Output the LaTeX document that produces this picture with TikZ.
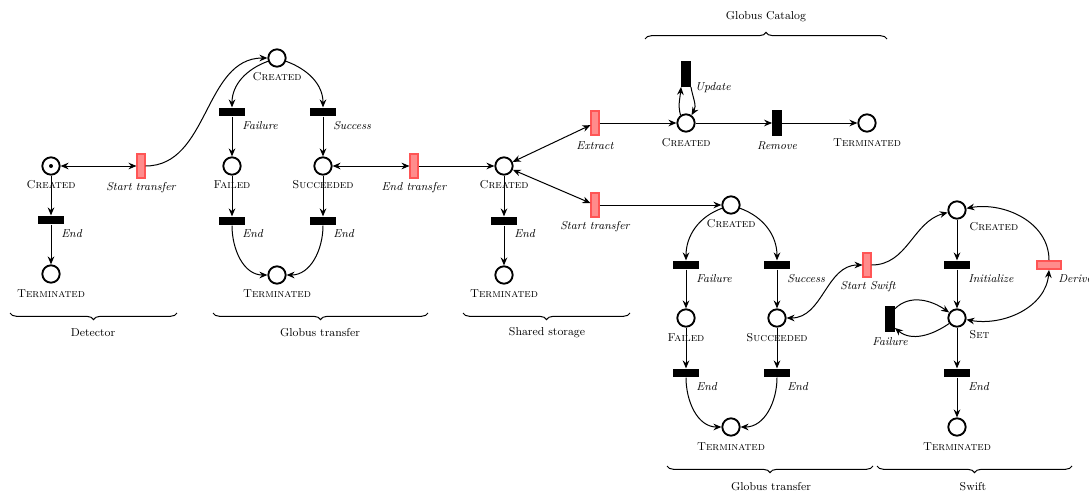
\documentclass[tikz,border=0pt]{standalone}
\usetikzlibrary{arrows.meta,decorations.pathreplacing}
\definecolor{trfill}{RGB}{255,140,140}
\definecolor{trdraw}{RGB}{255,85,85}
\begin{document}
\begin{tikzpicture}[x=0.75pt,y=0.75pt,
  every node/.style={font=\fontsize{8.6}{10.3}\selectfont},
  pnplace/.style={circle,draw,line width=1.4pt,minimum size=13pt,inner sep=0pt},
  pnhbar/.style={rectangle,fill=black,minimum width=19.5pt,minimum height=6.5pt,inner sep=0pt},
  pnvbar/.style={rectangle,fill=black,minimum width=7pt,minimum height=19pt,inner sep=0pt},
  pnrvbar/.style={rectangle,fill=trfill,draw=trdraw,line width=1.3pt,minimum width=5.5pt,minimum height=17.5pt,inner sep=0pt},
  pnrhbar/.style={rectangle,fill=trfill,draw=trdraw,line width=1.3pt,minimum width=18.5pt,minimum height=6pt,inner sep=0pt},
  pnlab/.style={inner sep=0pt},
  pntlab/.style={inner sep=0pt,anchor=west,font=\fontsize{8.6}{10.3}\selectfont\itshape},
  pnarrow/.style={line width=0.75pt,-{Stealth[length=6pt,width=5pt,inset=2pt]}},
  pndarrow/.style={line width=0.75pt,{Stealth[length=6pt,width=5pt,inset=2pt]}-{Stealth[length=6pt,width=5pt,inset=2pt]}},
  pnbrace/.style={decorate,decoration={brace,amplitude=5pt},line width=0.75pt},
]
\useasboundingbox (0,0) rectangle (1089,-493);

% ---------------- Detector
\node[pnplace] (dC) at (51,-166) {};
\node[circle,fill=black,inner sep=0pt,minimum size=3pt] (dTok) at (dC) {};
\node[pnhbar] (dE) at (51,-220) {};
\node[pnplace] (dT) at (51,-274) {};
\node[pnrvbar] (dST) at (141,-166) {};
\node[pnlab] (dCl) at (51,-185) {\textsc{Created}};
\node[pntlab] (dEl) at (61,-234) {End};
\node[pnlab] (dTl) at (51,-294) {\textsc{Terminated}};
\node[pntlab,anchor=center] (dSTl) at (141,-188) {Start transfer};

% ---------------- Globus transfer (top)
\node[pnplace] (gC) at (277,-58) {};
\node[pnhbar] (gF) at (232,-112) {};
\node[pnhbar] (gS) at (323,-112) {};
\node[pnplace] (gFd) at (232,-166) {};
\node[pnplace] (gSd) at (323,-166) {};
\node[pnhbar] (gE1) at (232,-221) {};
\node[pnhbar] (gE2) at (323,-221) {};
\node[pnplace] (gT) at (277,-275) {};
\node[pnrvbar] (gET) at (414,-166) {};
\node[pnlab] (gCl) at (277,-77) {\textsc{Created}};
\node[pntlab] (gFl) at (242,-126) {Failure};
\node[pntlab] (gSl) at (333,-126) {Success};
\node[pnlab] (gFdl) at (232,-185) {\textsc{Failed}};
\node[pnlab] (gSdl) at (323,-185) {\textsc{Succeeded}};
\node[pntlab] (gE1l) at (242,-234) {End};
\node[pntlab] (gE2l) at (333,-234) {End};
\node[pnlab] (gTl) at (277,-294) {\textsc{Terminated}};
\node[pntlab,anchor=center] (gETl) at (414,-188) {End transfer};

% ---------------- Shared storage
\node[pnplace] (sC) at (504,-166) {};
\node[pnhbar] (sE) at (504,-221) {};
\node[pnplace] (sT) at (504,-275) {};
\node[pnrvbar] (sEx) at (595,-123) {};
\node[pnrvbar] (sST) at (595,-205) {};
\node[pnlab] (sCl) at (504,-185) {\textsc{Created}};
\node[pntlab] (sEl) at (514,-234) {End};
\node[pnlab] (sTl) at (504,-294) {\textsc{Terminated}};
\node[pntlab,anchor=center] (sExl) at (595,-146) {Extract};
\node[pntlab,anchor=center] (sSTl) at (595,-227) {Start transfer};

% ---------------- Globus Catalog
\node[pnplace] (cC) at (686,-123) {};
\node[pnvbar] (cU) at (686,-74) {};
\node[pnvbar] (cR) at (777,-123) {};
\node[pnplace] (cT) at (867,-123) {};
\node[pnlab] (cCl) at (686,-143) {\textsc{Created}};
\node[pntlab] (cUl) at (695,-88) {Update};
\node[pntlab,anchor=center] (cRl) at (777,-146) {Remove};
\node[pnlab] (cTl) at (867,-143) {\textsc{Terminated}};

% ---------------- Globus transfer (bottom)
\node[pnplace] (hC) at (731,-205) {};
\node[pnhbar] (hF) at (686,-265) {};
\node[pnhbar] (hS) at (777,-265) {};
\node[pnplace] (hFd) at (686,-318) {};
\node[pnplace] (hSd) at (777,-318) {};
\node[pnhbar] (hE1) at (686,-373) {};
\node[pnhbar] (hE2) at (777,-373) {};
\node[pnplace] (hT) at (731,-427) {};
\node[pnlab] (hCl) at (731,-224) {\textsc{Created}};
\node[pntlab] (hFl) at (696,-279) {Failure};
\node[pntlab] (hSl) at (787,-279) {Success};
\node[pnlab] (hFdl) at (686,-338) {\textsc{Failed}};
\node[pnlab] (hSdl) at (777,-338) {\textsc{Succeeded}};
\node[pntlab] (hE1l) at (696,-387) {End};
\node[pntlab] (hE2l) at (787,-387) {End};
\node[pnlab] (hTl) at (731,-447) {\textsc{Terminated}};

% ---------------- Swift
\node[pnrvbar] (wSS) at (867,-265) {};
\node[pnplace] (wC) at (957,-210) {};
\node[pnhbar] (wI) at (957,-265) {};
\node[pnplace] (wSet) at (957,-318) {};
\node[pnvbar] (wF) at (890,-319) {};
\node[pnrhbar] (wD) at (1049,-265) {};
\node[pnhbar] (wE) at (957,-373) {};
\node[pnplace] (wT) at (957,-427) {};
\node[pntlab,anchor=center] (wSSl) at (868,-287) {Start Swift};
\node[pnlab,anchor=west] (wCl) at (969,-227) {\textsc{Created}};
\node[pntlab] (wIl) at (968,-279) {Initialize};
\node[pnlab,anchor=west] (wSetl) at (969,-335) {\textsc{Set}};
\node[pntlab,anchor=center] (wFl) at (890,-342) {Failure};
\node[pntlab] (wDl) at (1058,-279) {Derive};
\node[pntlab] (wEl) at (968,-387) {End};
\node[pnlab] (wTl) at (957,-447) {\textsc{Terminated}};

% ---------------- connectors
\draw[pndarrow] (dC) -- (dST);
\draw[pnarrow] (dC) -- (dE);
\draw[pnarrow] (dE) -- (dT);
\draw[pnarrow] (dST) to[out=0,in=180] (gC);

\draw[pnarrow] (gC) to[out=200,in=90] (gF);
\draw[pnarrow] (gC) to[out=-20,in=90] (gS);
\draw[pnarrow] (gF) -- (gFd);
\draw[pnarrow] (gS) -- (gSd);
\draw[pnarrow] (gFd) -- (gE1);
\draw[pnarrow] (gSd) -- (gE2);
\draw[pnarrow] (gE1) to[out=-90,in=180] (gT);
\draw[pnarrow] (gE2) to[out=-90,in=0] (gT);
\draw[pndarrow] (gSd) -- (gET);
\draw[pnarrow] (gET) -- (sC);

\draw[pnarrow] (sC) -- (sE);
\draw[pnarrow] (sE) -- (sT);
\draw[pndarrow] (sC) -- (sEx);
\draw[pndarrow] (sC) -- (sST);

\draw[pnarrow] (sEx) -- (cC);
\draw[pnarrow] (cC) -- (cR);
\draw[pnarrow] (cR) -- (cT);
\draw[pnarrow] (cC.125) to[out=105,in=-95] (cU.south west);
\draw[pnarrow] (cU.south east) to[out=-80,in=60] (cC.55);

\draw[pnarrow] (sST) -- (hC);
\draw[pnarrow] (hC) to[out=200,in=90] (hF);
\draw[pnarrow] (hC) to[out=-20,in=90] (hS);
\draw[pnarrow] (hF) -- (hFd);
\draw[pnarrow] (hS) -- (hSd);
\draw[pnarrow] (hFd) -- (hE1);
\draw[pnarrow] (hSd) -- (hE2);
\draw[pnarrow] (hE1) to[out=-90,in=180] (hT);
\draw[pnarrow] (hE2) to[out=-90,in=0] (hT);
\draw[pndarrow] (hSd) to[out=0,in=180] (wSS);

\draw[pnarrow] (wSS) to[out=0,in=195] (wC);
\draw[pnarrow] (wC) -- (wI);
\draw[pnarrow] (wI) -- (wSet);
\draw[pnarrow] (wSet) -- (wE);
\draw[pnarrow] (wE) -- (wT);
\draw[pnarrow] (wD.north) to[out=90,in=10] (wC);
\draw[pndarrow] (wSet) to[out=-10,in=-95] (wD.south);
\draw[pnarrow] ([yshift=-2pt]wF.north east) to[out=45,in=145] (wSet);
\draw[pnarrow] (wSet) to[out=215,in=-40] ([yshift=3pt]wF.south east);

% ---------------- braces
\draw[pnbrace] (177,-313) -- (10,-313);
\node[pnlab] (bDet) at (93,-333) {Detector};
\draw[pnbrace] (428,-313) -- (213,-313);
\node[pnlab] (bGT1) at (320,-333) {Globus transfer};
\draw[pnbrace] (630,-313) -- (463,-313);
\node[pnlab] (bSS) at (547,-333) {Shared storage};
\draw[pnbrace] (645,-39) -- (887,-39);
\node[pnlab] (bCat) at (766,-17) {Globus Catalog};
\draw[pnbrace] (873,-466) -- (667,-466);
\node[pnlab] (bGT2) at (771,-487) {Globus transfer};
\draw[pnbrace] (1072,-466) -- (877,-466);
\node[pnlab] (bSw) at (973,-487) {Swift};
\end{tikzpicture}
\end{document}
